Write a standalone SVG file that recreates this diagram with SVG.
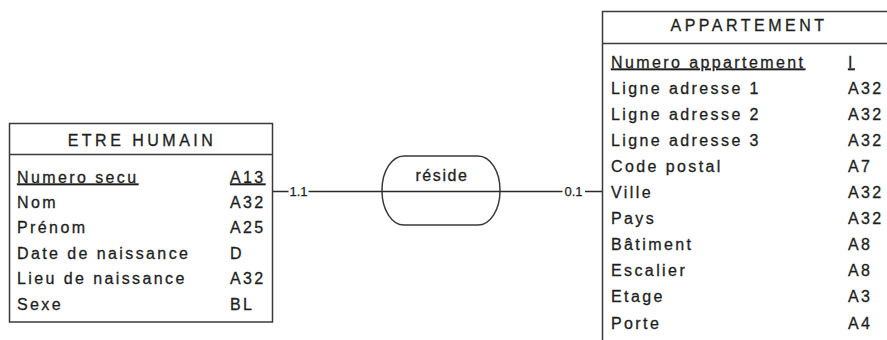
<svg xmlns="http://www.w3.org/2000/svg" width="887" height="340" viewBox="0 0 887 340">
<style>
.box{fill:#fff;stroke:#3a3a3a;stroke-width:1.5}
.sep{stroke:#3a3a3a;stroke-width:1.5}
.t{font-family:"Liberation Sans",Arial,sans-serif;font-size:16px;fill:#1e1e1e;stroke:#1e1e1e;stroke-width:0.3;letter-spacing:2.4px}
.h{font-family:"Liberation Sans",Arial,sans-serif;font-size:16px;fill:#1e1e1e;stroke:#1e1e1e;stroke-width:0.3;letter-spacing:3.5px;text-anchor:middle}
.pk{text-decoration:underline}
.ln{stroke:#2a2a2a;stroke-width:1.5;fill:none}
.card{font-family:"Liberation Sans",Arial,sans-serif;font-size:13px;fill:#1e1e1e;stroke:#1e1e1e;stroke-width:0.25;text-anchor:middle}
.rel{font-family:"Liberation Sans",Arial,sans-serif;font-size:16px;fill:#1e1e1e;stroke:#1e1e1e;stroke-width:0.3;letter-spacing:1.6px;text-anchor:middle}
</style>
<rect width="887" height="340" fill="#fff"/>
<g id="etre-humain">
<rect class="box" x="9.5" y="123.5" width="263" height="198.5"/>
<line class="sep" x1="9.5" y1="154.5" x2="272.5" y2="154.5"/>
<text class="h" x="142" y="146">ETRE HUMAIN</text>
<text class="t pk" x="17" y="182.5">Numero secu</text><text class="t pk" x="230" y="182.5">A13</text>
<text class="t" x="17" y="207.9">Nom</text><text class="t" x="230" y="207.9">A32</text>
<text class="t" x="17" y="233.3">Prénom</text><text class="t" x="230" y="233.3">A25</text>
<text class="t" x="17" y="258.7">Date de naissance</text><text class="t" x="230" y="258.7">D</text>
<text class="t" x="17" y="284.1">Lieu de naissance</text><text class="t" x="230" y="284.1">A32</text>
<text class="t" x="17" y="309.5">Sexe</text><text class="t" x="230" y="309.5">BL</text>
</g>
<g id="appartement">
<rect class="box" x="602.5" y="11.5" width="300" height="340"/>
<line class="sep" x1="602.5" y1="43.5" x2="887" y2="43.5"/>
<text class="h" x="749" y="31">APPARTEMENT</text>
<text class="t pk" x="611" y="67.5">Numero appartement</text><text class="t pk" x="848" y="67.5">I</text>
<text class="t" x="611" y="93.6">Ligne adresse 1</text><text class="t" x="848" y="93.6">A32</text>
<text class="t" x="611" y="119.7">Ligne adresse 2</text><text class="t" x="848" y="119.7">A32</text>
<text class="t" x="611" y="145.8">Ligne adresse 3</text><text class="t" x="848" y="145.8">A32</text>
<text class="t" x="611" y="171.9">Code postal</text><text class="t" x="848" y="171.9">A7</text>
<text class="t" x="611" y="198">Ville</text><text class="t" x="848" y="198">A32</text>
<text class="t" x="611" y="224.1">Pays</text><text class="t" x="848" y="224.1">A32</text>
<text class="t" x="611" y="250.2">Bâtiment</text><text class="t" x="848" y="250.2">A8</text>
<text class="t" x="611" y="276.3">Escalier</text><text class="t" x="848" y="276.3">A8</text>
<text class="t" x="611" y="302.4">Etage</text><text class="t" x="848" y="302.4">A3</text>
<text class="t" x="611" y="328.5">Porte</text><text class="t" x="848" y="328.5">A4</text>
</g>
<g id="reside">
<rect class="box" x="382" y="156" width="118" height="69" rx="22" ry="34"/>
<text class="rel" x="442" y="181">réside</text>
</g>
<g id="connectors">
<path class="ln" d="M273 191.5H288.5M308.5 191.5H562.5M585 191.5H602"/>
<text class="card" x="298.5" y="196">1.1</text>
<text class="card" x="573.5" y="196">0.1</text>
</g>
</svg>
